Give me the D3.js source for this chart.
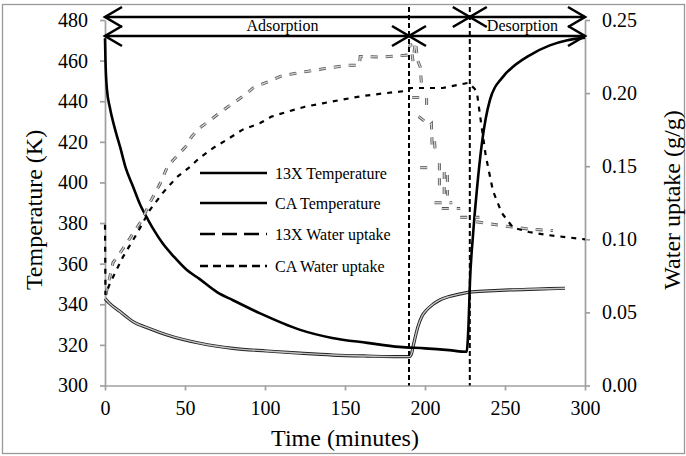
<!DOCTYPE html>
<html><head><meta charset="utf-8">
<script src="https://cdn.jsdelivr.net/npm/d3@7"></script>
<style>
body{margin:0;background:#fff}
svg{display:block}
svg text{font-family:"Liberation Serif","Times New Roman",Times,serif !important;}
</style>
</head><body>
<svg id="c" width="686" height="456"></svg>
<script>
// ---------------- data ----------------
const timeTicks = [0, 50, 100, 150, 200, 250, 300];
const tempTicks = [300, 320, 340, 360, 380, 400, 420, 440, 460, 480];
const uptakeTicks = [0, 0.05, 0.10, 0.15, 0.20, 0.25];

// CA Temperature (thick black)
const caTempTime = [0, 0.3, 1.2, 3, 6, 9.4, 13, 17.5, 22, 27, 31, 36, 43, 51, 59, 70, 80, 97, 122, 142, 164, 184, 200, 215, 226, 227.2, 228.1, 230, 232.5, 235.6, 240.6, 248.7, 255, 264, 278, 289, 300];
const caTempK = [471, 460, 446, 437, 427, 417.6, 407, 398, 389, 381.5, 376, 370, 363.5, 357, 352.5, 346, 342, 335.5, 327.4, 323.4, 321, 319, 318.3, 317.4, 316.6, 330, 351, 374, 397, 419.5, 440.7, 452, 457, 462, 467.5, 470, 471.3];

// 13X Temperature (grey double line)
const x13TempTime = [0, 3, 9.4, 17.5, 28, 38.75, 59.4, 80, 101, 122, 142.5, 164, 184, 190, 191.5, 192.5, 195.6, 198, 201, 205, 209, 215, 222, 228, 240, 253, 270, 287.5];
const x13TempK = [342.8, 340.3, 336.4, 331.5, 328, 324.9, 320.8, 318.3, 317, 315.9, 315, 314.5, 314.2, 314.2, 315.5, 319, 329, 334, 337.2, 340, 342, 343.8, 345.1, 346, 346.6, 347.1, 347.5, 347.9];

// CA Water uptake (black short dash)
const caUptakeTime = [0, 0.3, 3.1, 11.25, 20, 28, 36, 45, 53, 59, 67.5, 76, 86, 97, 104, 114, 125, 136, 149, 161, 174, 189, 191, 211, 227, 231, 232.5, 235, 238, 242.5, 248, 255, 265, 276, 300];
const caUptake = [0.11, 0.062, 0.070, 0.088, 0.104, 0.12, 0.1316, 0.1426, 0.1495, 0.1556, 0.1624, 0.168, 0.175, 0.1795, 0.1839, 0.1873, 0.1907, 0.193, 0.1957, 0.198, 0.1998, 0.2016, 0.2035, 0.2035, 0.207, 0.203, 0.200, 0.180, 0.157, 0.133, 0.118, 0.108, 0.105, 0.103, 0.100];

// 13X Water uptake (grey dashes), recorded as separate pieces [time, uptake]
const x13UptakePieces = [
  [[0.5,0.062],[5,0.084],[9.4,0.0906],[13.75,0.0975],[17.5,0.104],[23,0.113],[28,0.125],[34.4,0.138],[38.75,0.149],[42.5,0.154],[51,0.164],[54,0.17],[59,0.176],[67.5,0.183],[76,0.19],[82.5,0.195],[89,0.2],[92.5,0.2035],[111,0.212],[132.5,0.216],[151,0.219],[159,0.219],[159.5,0.225],[174,0.2247],[189,0.226],[191,0.234],[192.5,0.222],[194,0.235],[195.5,0.222],[197,0.218],[198,0.203]],
  [[192,0.197],[201,0.197],[201,0.188]],
  [[196,0.184],[203,0.178],[204,0.179],[204.5,0.163]],
  [[206,0.167],[206.5,0.157]],
  [[197,0.149],[204,0.149]],
  [[209,0.152],[209,0.136]],
  [[212,0.146],[212,0.129]],
  [[214,0.144],[214,0.130]],
  [[206,0.125],[217,0.125]],
  [[210.5,0.121],[222,0.121]],
  [[222,0.115],[234,0.115]],
  [[232,0.112],[250,0.109],[265,0.107],[280,0.106]]
];

// phase boundaries (minutes)
const phaseBoundsCA = [0, 228, 300];
const phaseBounds13X = [0, 190, 300];
const phaseNames = ["Adsorption", "Desorption"];

const legendLabels = ["13X Temperature", "CA Temperature", "13X Water uptake", "CA Water uptake"];

// ---------------- drawing ----------------
const FONT = '"Liberation Serif","Times New Roman",Times,serif';
const svg = d3.select("#c");
const x = d3.scaleLinear().domain([0, 300]).range([105, 585]);
const yT = d3.scaleLinear().domain([300, 480]).range([385.5, 20]);
const yW = d3.scaleLinear().domain([0, 0.25]).range([385.5, 20]);

function txt(sel, size) {
  return sel.style("font-family", FONT).style("font-size", size + "px").attr("fill", "#000");
}

// outer border
svg.append("rect").attr("x", 2.5).attr("y", 4.5).attr("width", 682).attr("height", 449)
  .attr("fill", "none").attr("stroke", "#999").attr("stroke-width", 1.3);

const AX = "#a0a0a0";
function styleAxis(g) {
  g.attr("font-family", FONT).attr("font-size", 20);
  g.selectAll("path,line").attr("stroke", AX).attr("stroke-width", 1.7);
  txt(g.selectAll("text"), 20);
}
svg.append("g").attr("transform", "translate(105,0)")
  .call(d3.axisLeft(yT).tickValues(tempTicks).tickSize(5).tickSizeOuter(0).tickPadding(12))
  .call(styleAxis);
svg.append("g").attr("transform", "translate(585,0)")
  .call(d3.axisRight(yW).tickValues(uptakeTicks).tickFormat(d3.format(".2f")).tickSize(5).tickSizeOuter(0).tickPadding(12))
  .call(styleAxis);
svg.append("g").attr("transform", "translate(0,385.5)")
  .call(d3.axisBottom(x).tickValues(timeTicks).tickSize(5).tickSizeOuter(0).tickPadding(10))
  .call(styleAxis);

// axis titles
txt(svg.append("text").attr("transform", "translate(42,210) rotate(-90)").attr("text-anchor", "middle"), 24)
  .text("Temperature (K)");
txt(svg.append("text").attr("transform", "translate(680,200) rotate(-90)").attr("text-anchor", "middle"), 24)
  .text("Water uptake (g/g)");
txt(svg.append("text").attr("x", 345).attr("y", 446).attr("text-anchor", "middle"), 24)
  .text("Time (minutes)");

// series
const lineT = d3.line().x(d => x(d[0])).y(d => yT(d[1])).curve(d3.curveMonotoneX);
const lineW = d3.line().x(d => x(d[0])).y(d => yW(d[1]));

const x13TempData = x13TempTime.map((t, i) => [t, x13TempK[i]]);
svg.append("path").datum(x13TempData).attr("d", lineT).attr("fill", "none")
  .attr("stroke", "#222").attr("stroke-width", 3.2);
svg.append("path").datum(x13TempData).attr("d", lineT).attr("fill", "none")
  .attr("stroke", "#c4c4c4").attr("stroke-width", 1.4);

const caTempData = caTempTime.map((t, i) => [t, caTempK[i]]);
svg.append("path").datum(caTempData).attr("d", lineT).attr("fill", "none")
  .attr("stroke", "#000").attr("stroke-width", 2.6);

x13UptakePieces.forEach(p => {
  svg.append("path").datum(p).attr("d", lineW).attr("fill", "none")
    .attr("stroke", "#555").attr("stroke-width", 3).attr("stroke-dasharray", "7,8");
  svg.append("path").datum(p).attr("d", lineW).attr("fill", "none")
    .attr("stroke", "#cfcfcf").attr("stroke-width", 1.4).attr("stroke-dasharray", "7,8");
});

const caUptakeData = caUptakeTime.map((t, i) => [t, caUptake[i]]);
svg.append("path").datum(caUptakeData).attr("d", lineW).attr("fill", "none")
  .attr("stroke", "#000").attr("stroke-width", 2.2).attr("stroke-dasharray", "5,6");

// phase boundary dashed lines
[phaseBounds13X[1], phaseBoundsCA[1]].forEach(t => {
  svg.append("line").attr("x1", x(t)).attr("x2", x(t)).attr("y1", 7).attr("y2", 385.5)
    .attr("stroke", "#000").attr("stroke-width", 2).attr("stroke-dasharray", "5,3");
});

// double-headed phase arrows
function arrows(bounds, y) {
  for (let i = 0; i < bounds.length - 1; i++) {
    const a = x(bounds[i]), b = x(bounds[i + 1]);
    svg.append("line").attr("x1", a).attr("x2", b).attr("y1", y).attr("y2", y)
      .attr("stroke", "#000").attr("stroke-width", 2.6);
    svg.append("path").attr("d", `M${a + 17},${y - 10}L${a},${y}L${a + 17},${y + 10}M${b - 17},${y - 10}L${b},${y}L${b - 17},${y + 10}`)
      .attr("fill", "none").attr("stroke", "#000").attr("stroke-width", 2.6);
  }
}
arrows(phaseBoundsCA, 17);
arrows(phaseBounds13X, 36);
phaseNames.forEach((n, i) => {
  const mid = (phaseBoundsCA[i] + phaseBoundsCA[i + 1]) / 2;
  txt(svg.append("text").attr("x", x(mid) - 5).attr("y", 31).attr("text-anchor", "middle"), 16).text(n);
});

// legend
const legendY = [173, 203, 234, 266];
const legendDash = [null, null, "15,7", "8,5"];
legendLabels.forEach((lab, i) => {
  const l = svg.append("line").attr("x1", 200).attr("x2", 267).attr("y1", legendY[i]).attr("y2", legendY[i])
    .attr("stroke", "#000").attr("stroke-width", 2.3);
  if (legendDash[i]) l.attr("stroke-dasharray", legendDash[i]);
  txt(svg.append("text").attr("x", 275).attr("y", legendY[i] + 5.5), 16).text(lab);
});
</script>
</body></html>
